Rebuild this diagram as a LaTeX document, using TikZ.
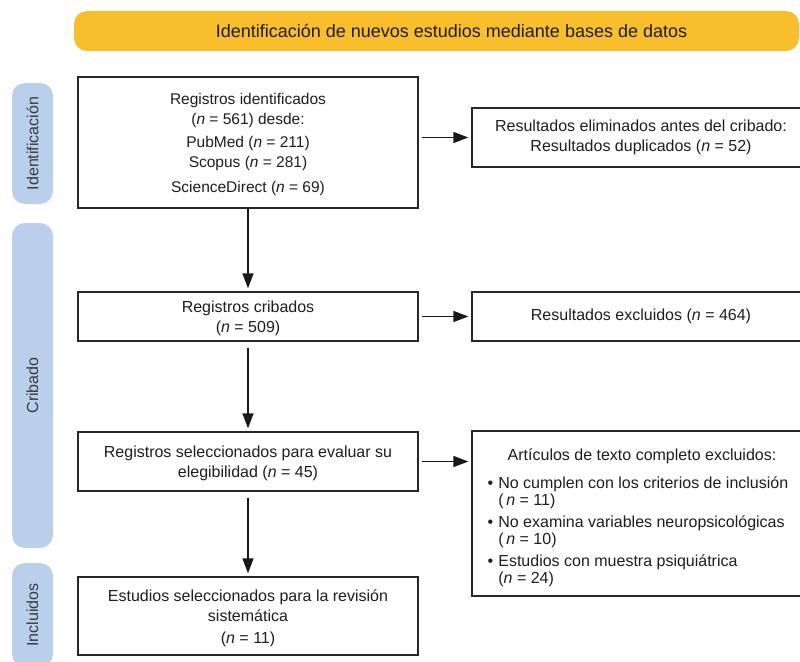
\documentclass[tikz,border=0pt]{standalone}
\usepackage{fontspec}
\setmainfont{Liberation Sans}
\usetikzlibrary{arrows.meta}
\definecolor{bannerc}{HTML}{F9BE2B}
\definecolor{tabc}{HTML}{BACFEB}
\definecolor{txtc}{HTML}{1E1E1E}
\definecolor{tabtxt}{HTML}{3A3A3A}
\begin{document}
\begin{tikzpicture}[x=1pt,y=-1pt,
  font=\fontsize{16}{20}\selectfont,
  box/.style={draw=black!85, line width=1.3pt, fill=white, align=center, inner sep=0pt, text=txtc},
  arr/.style={-{Triangle[length=15pt,width=11pt]}, line width=1.4pt, draw=black!90, fill=black!90, shorten >=3pt, shorten <=3pt},
  tabbox/.style={fill=tabc, rounded corners=13pt, text=tabtxt, inner sep=0pt, rotate=90},
  banner/.style={fill=bannerc, rounded corners=13pt, text=txtc, inner sep=0pt}
]
\useasboundingbox (0,0) rectangle (800,661);
\clip (0,0) rectangle (800,661);

% banner
\node[banner, font=\fontsize{18}{22}\selectfont, minimum width=725pt, minimum height=40pt] (ban) at (436.5,31) {\hspace*{30pt}Identificación de nuevos estudios mediante bases de datos};

% side tabs
\node[tabbox, minimum width=121pt, minimum height=41pt] (t1) at (32.5,143.5) {Identificación};
\node[tabbox, minimum width=325pt, minimum height=41pt] (t2) at (32.5,385.5) {Cribado};
\node[tabbox, minimum width=104pt, minimum height=41pt] (t3) at (32.5,615) {Incluidos};

% left column
\node[box, font=\fontsize{15.5}{20}\selectfont, minimum width=340pt, minimum height=131pt] (b1) at (248,142.5)
  {\rule{0pt}{16pt}Registros identificados\\(\textit{n} = 561) desde:\\[3pt]PubMed (\textit{n} = 211)\\Scopus (\textit{n} = 281)\\[5pt]ScienceDirect (\textit{n} = 69)};
\node[box, minimum width=340pt, minimum height=49pt] (b3) at (248,316.5)
  {\rule{0pt}{16pt}Registros cribados\\(\textit{n} = 509)};
\node[box, minimum width=340pt, minimum height=59pt] (b5) at (248,461.5)
  {\rule{0pt}{16pt}Registros seleccionados para evaluar su\\elegibilidad (\textit{n} = 45)};
\node[box, minimum width=340pt, minimum height=78pt] (b7) at (248,616)
  {\rule{0pt}{16pt}Estudios seleccionados para la revisión\\sistemática\\[2pt](\textit{n} = 11)};

% right column
\node[box, minimum width=338pt, minimum height=59pt] (b2) at (641,137.5)
  {Resultados eliminados antes del cribado:\\Resultados duplicados (\textit{n} = 52)};
\node[box, minimum width=338pt, minimum height=49pt] (b4) at (641,316.5)
  {Resultados excluidos (\textit{n} = 464)};
\node[box, font=\fontsize{16}{17}\selectfont, minimum width=338pt, minimum height=165pt] (b6) at (641,513.5)
  {\raisebox{-5pt}[\height][\depth]{\begin{tabular}{@{}l@{\hspace{5pt}}l@{}}
   \multicolumn{2}{c}{\hspace{8pt}Artículos de texto completo excluidos:}\\[11pt]
   \textbullet & No cumplen con los criterios de inclusión\\
   & (\,\textit{n} = 11)\\[5pt]
   \textbullet & No examina variables neuropsicológicas\\
   & (\,\textit{n} = 10)\\[5pt]
   \textbullet & Estudios con muestra psiquiátrica\\
   & (\textit{n} = 24)
   \end{tabular}\hspace{6pt}}};

% connectors
\draw[arr, shorten <=0pt] (b1.south) -- (b3.north);
\draw[arr, shorten <=6pt] (b3.south) -- (b5.north);
\draw[arr, shorten <=6pt] (b5.south) -- (b7.north);
\draw[arr] (b2.west -| b1.east) -- (b2.west);
\draw[arr] (b3.east) -- (b4.west);
\draw[arr] (b5.east) -- (b5.east -| b6.west);
\end{tikzpicture}
\end{document}
